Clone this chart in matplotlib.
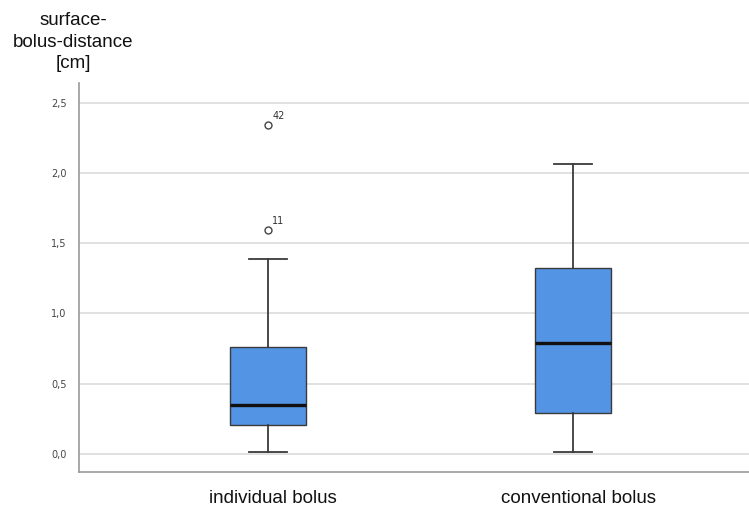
import matplotlib
matplotlib.use("Agg")
import matplotlib.pyplot as plt
import matplotlib.transforms as mtransforms

# summary values per group (cm)
groups = ["individual bolus", "conventional bolus"]
q1 = [0.206, 0.291]
medians = [0.346, 0.787]
q3 = [0.763, 1.327]
whisker_low = [0.01, 0.01]
whisker_high = [1.39, 2.068]
outliers = [[1.596, 2.346], []]
outlier_ids = [["11", "42"], []]

yticks = [0.0, 0.5, 1.0, 1.5, 2.0, 2.5]

plt.rcParams["font.family"] = ["Liberation Sans", "DejaVu Sans"]

fig = plt.figure(figsize=(7.49, 5.08), dpi=100)
ax = fig.add_axes([79 / 749, 1 - 472 / 508, 1 - 79 / 749, (472 - 83) / 508])

stats = []
for i, name in enumerate(groups):
    stats.append(dict(label=name, q1=q1[i], med=medians[i], q3=q3[i],
                      whislo=whisker_low[i], whishi=whisker_high[i],
                      fliers=outliers[i]))

pos = [1, 2]
ax.bxp(stats, positions=pos, widths=0.25, patch_artist=True,
       boxprops=dict(facecolor="#5394e4", edgecolor="#3a3a3a", linewidth=1.0),
       medianprops=dict(color="#111111", linewidth=2.4),
       whiskerprops=dict(color="#3a3a3a", linewidth=1.3),
       capprops=dict(color="#3a3a3a", linewidth=1.3),
       capwidths=0.125,
       flierprops=dict(marker="o", markersize=5, markerfacecolor="white",
                       markeredgecolor="#444444", markeredgewidth=1.0),
       zorder=3)

for i, ids in enumerate(outlier_ids):
    for val, lab in zip(outliers[i], ids):
        ax.annotate(lab, (pos[i], val), xytext=(3, 4), textcoords="offset points",
                    fontsize=7, color="#333333", family="DejaVu Sans")

ax.set_xlim(0.38, 2.577)
ax.set_ylim(-0.132, 2.646)
ax.set_yticks(yticks)
ax.set_yticklabels([f"{t:.1f}".replace(".", ",") for t in yticks],
                   fontsize=7, color="#444444", family="DejaVu Sans")
ax.set_xticks(pos)
ax.set_xticklabels(groups, fontsize=13.5, color="#111111")
ax.tick_params(axis="both", length=0)
ax.tick_params(axis="x", pad=13)
ax.tick_params(axis="y", pad=9)

# category names sit a little right of the box centres
shift = mtransforms.ScaledTranslation(5 / 100, 0, fig.dpi_scale_trans)
for lbl in ax.get_xticklabels():
    lbl.set_transform(lbl.get_transform() + shift)

ax.yaxis.grid(True, color="#dcdcdc", linewidth=1.2)
ax.set_axisbelow(True)
for side in ["top", "right"]:
    ax.spines[side].set_visible(False)
for side in ["left", "bottom"]:
    ax.spines[side].set_color("#9a9a9a")
    ax.spines[side].set_linewidth(1.2)

fig.text(73 / 749, 1 - 12 / 508, "surface-\nbolus-distance\n[cm]",
         ha="center", va="top", fontsize=13.5, color="#111111", linespacing=1.35)

fig.savefig("out.png", dpi=100)
